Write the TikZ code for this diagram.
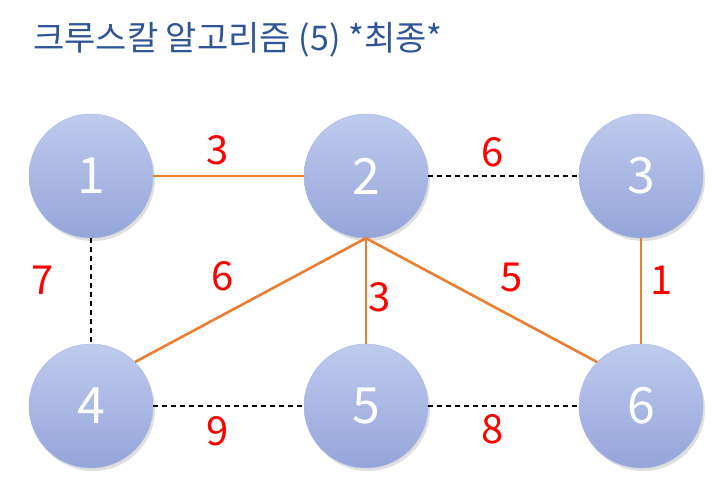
\documentclass[tikz,border=0pt]{standalone}
\usepackage{fontspec}
\usepackage{xcolor}
\usetikzlibrary{shadows}
\newfontfamily\kr{Noto Sans CJK KR}
\definecolor{titleblue}{HTML}{2F5597}
\definecolor{balltop}{HTML}{BFCAEE}
\definecolor{ballbot}{HTML}{94A5D9}
\definecolor{treeorange}{HTML}{ED7D31}

\begin{document}
\begin{tikzpicture}[auto,node distance=275pt,
    ball/.style={circle,minimum size=124pt,inner sep=0pt,top color=balltop,bottom color=ballbot,
      draw=ballbot!80!white,line width=0.4pt,
      drop shadow={opacity=0.25,shadow xshift=2pt,shadow yshift=-3pt},
      text=white,font=\kr\fontsize{50}{50}\selectfont},
    tree/.style={draw=treeorange,line width=2.6pt},
    skip/.style={draw=black,line width=1.3pt,dash pattern=on 5pt off 4pt},
    wt/.style={text=red,font=\kr\fontsize{40}{40}\selectfont,inner sep=3pt}]
    \useasboundingbox (0,0) rectangle (713pt,-495pt);
    \node[anchor=west,text=titleblue,font=\kr\fontsize{34}{34}\selectfont,inner sep=0pt] (title) at (33pt,-40pt) {크루스칼 알고리즘 (5) *최종*};
    \node[ball] (1) at (91pt,-176pt) {1};
    \node[ball] (2) [right of=1] {2};
    \node[ball] (3) [right of=2] {3};
    \node[ball] (4) [node distance=230pt,below of=1] {4};
    \node[ball] (5) [right of=4] {5};
    \node[ball] (6) [right of=5] {6};
    \draw [tree] (1) -- (2) node[wt,pos=.43,above=7pt] {3};
    \draw [skip] (2) -- (3) node[wt,pos=.43,above=5pt] {6};
    \draw [skip] (1) -- (4) node[wt,pos=.4,left=34pt] {7};
    \draw [tree] (3) -- (6) node[wt,pos=.4,right=5pt] {1};
    \draw [tree] (2.south) -- (4.north east) node[wt,pos=.62,above=20pt] {6};
    \draw [tree] (2.south) -- (5) node[wt,pos=.56,right=-2pt] {3};
    \draw [tree] (2.south) -- (6.north west) node[wt,pos=.63,above=20pt] {5};
    \draw [skip] (4) -- (5) node[wt,pos=.43,below=7pt] {9};
    \draw [skip] (5) -- (6) node[wt,pos=.43,below=5pt] {8};
\end{tikzpicture}
\end{document}
